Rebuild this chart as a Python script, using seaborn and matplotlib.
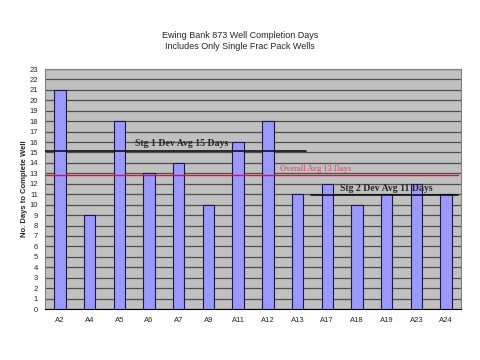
import matplotlib
matplotlib.use("Agg")
import matplotlib.pyplot as plt
import seaborn as sns
import pandas as pd
import numpy as np

wells = ["A2", "A4", "A5", "A6", "A7", "A9", "A11", "A12", "A13", "A17", "A18", "A19", "A23", "A24"]
days = [21, 9, 18, 13, 14, 10, 16, 18, 11, 12, 10, 11, 12, 11]
stg1_avg = 15.1
overall_avg = 12.8
stg2_avg = 10.9
yticks = list(range(0, 24))

df = pd.DataFrame({"Well": wells, "Days": days})

sns.set_style("white")
plt.rcParams['font.family'] = ['Liberation Sans', 'DejaVu Sans']

fig = plt.figure(figsize=(4.8, 3.6), dpi=100)
ax = fig.add_axes([45/480, 51/360, 416/480, 240/360])
ax.set_facecolor("#C0C0C0")

sns.barplot(data=df, x="Well", y="Days", color="#9999FF", saturation=1,
            width=0.38, edgecolor="#1a1a40", linewidth=0.8, ax=ax, zorder=3)

ax.set_ylim(0, 23)
ax.set_xlim(-0.5, len(wells) - 0.5)
ax.set_yticks(yticks)
ax.yaxis.grid(True, color="#505050", linewidth=0.9, zorder=1)
ax.set_axisbelow(True)

ax.tick_params(axis="y", labelsize=5.5, length=3, width=0.6, color="#606060", pad=2)
ax.tick_params(axis="x", which="major", labelsize=5.5, length=0, pad=6)
ax.set_xticks(np.arange(-0.5, len(wells), 1.0), minor=True)
ax.tick_params(axis="x", which="minor", length=3, width=0.6, color="#606060")

for s in ax.spines.values():
    s.set_color("#808080")
    s.set_linewidth(0.8)
ax.spines["bottom"].set_color("#000000")

ax.set_xlabel("")
ax.set_ylabel("No. Days to Complete Well", fontsize=5.5, fontweight="bold", labelpad=1)

# average lines
ax.plot([-0.5, 8.3], [stg1_avg, stg1_avg], color="#101010", lw=1.2, zorder=4)
ax.plot([-0.5, 13.4], [overall_avg, overall_avg], color="#FF0033", lw=1.0, zorder=4)
ax.plot([8.45, 13.4], [stg2_avg, stg2_avg], color="#101010", lw=1.2, zorder=4)

ax.text(4.1, stg1_avg + 0.35, "Stg 1 Dev Avg 15 Days", fontsize=7, fontweight="bold",
        family=["Liberation Serif", "DejaVu Serif"], ha="center", va="bottom", zorder=5)
ax.text(7.4, overall_avg + 0.2, "Overall Avg 13 Days", fontsize=6, color="#E8405A",
        family=["Liberation Serif", "DejaVu Serif"], ha="left", va="bottom", zorder=5)
ax.text(10.98, stg2_avg + 0.2, "Stg 2 Dev Avg 11 Days", fontsize=7, fontweight="bold",
        family=["Liberation Serif", "DejaVu Serif"], ha="center", va="bottom", zorder=5)

fig.text(0.5, 319/360, "Ewing Bank 873 Well Completion Days\nIncludes Only Single Frac Pack Wells",
         ha="center", va="center", fontsize=6.5, linespacing=1.4)

fig.savefig("out.png", dpi=100, facecolor="white")
